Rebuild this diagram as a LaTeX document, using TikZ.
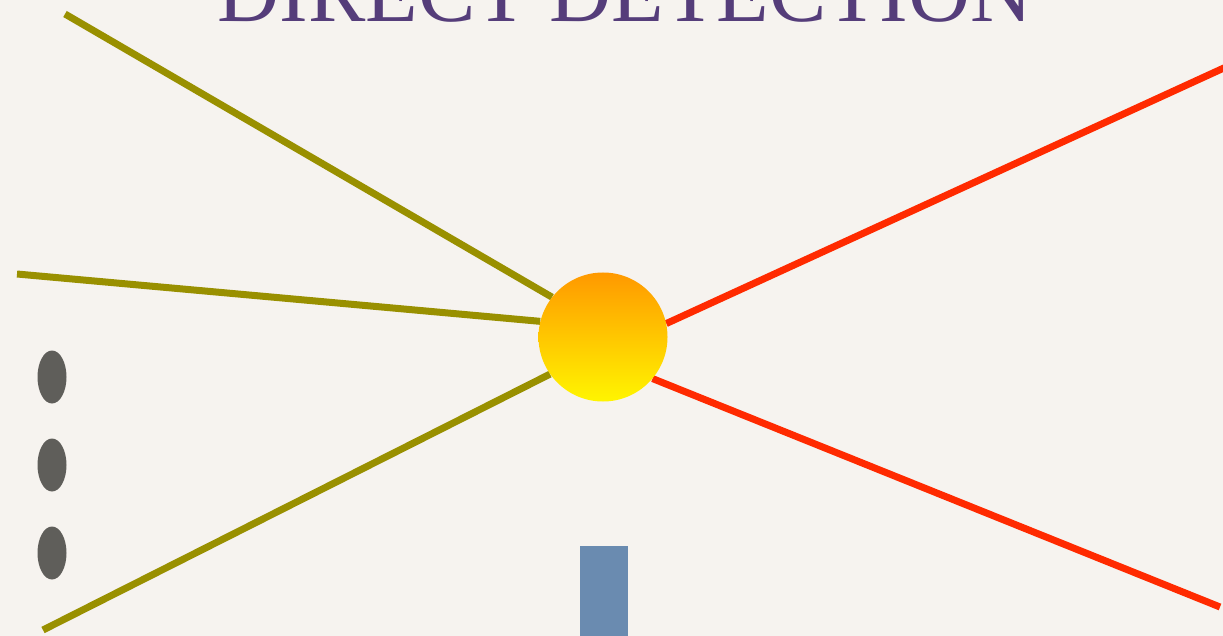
\documentclass[tikz,border=0pt]{standalone}
\usepackage{fontspec}
\setmainfont{Liberation Serif}
\usetikzlibrary{shapes.geometric}
\definecolor{paper}{HTML}{F6F3EF}
\definecolor{olive}{HTML}{999000}
\definecolor{redline}{HTML}{FF2A00}
\definecolor{titlepurple}{HTML}{553D7A}
\definecolor{dotgray}{HTML}{5F5E5A}
\definecolor{slab}{HTML}{6A8BB0}
\tikzset{
  inleg/.style={draw=olive,line width=7pt},
  outleg/.style={draw=redline,line width=7pt},
  blob/.style={circle,minimum size=129pt,inner sep=0pt},
  dots/.style={ellipse,fill=dotgray,minimum width=29pt,minimum height=53pt,inner sep=0pt}
}
\begin{document}
\begin{tikzpicture}[x=1pt,y=-1pt]
    \useasboundingbox (0,0) rectangle (1223,636);
    \clip (0,0) rectangle (1223,636);
    \fill[paper] (0,0) rectangle (1223,636);
    \node[anchor=base,text=titlepurple,inner sep=0pt,font=\fontsize{86}{86}\selectfont] (title) at (625,22) {DIRECT DETECTION};
    % vertex: shape first, filled on top of the legs
    \node[blob] (vertex) at (603,337) {};
    \path
      coordinate (a) at (65,14)
      coordinate (b) at (17,274)
      coordinate (c) at (43,630)
      coordinate (d) at (1226,67)
      coordinate (e) at (1220,607);
    \draw[inleg](a)--(vertex.142);
    \draw[inleg](b)--(vertex.166);
    \draw[inleg](c)--(vertex.215);
    \draw[outleg](vertex.12)--(d);
    \draw[outleg](vertex.-40)--(e);
    \node[blob,top color={rgb,255:red,255;green,153;blue,0},bottom color={rgb,255:red,255;green,245;blue,0}] (vertexfill) at (vertex) {};
    \foreach \y/\n in {377/1,465/2,553/3}
      \node[dots] (dot\n) at (52,\y) {};
    \fill[slab] (580,546) rectangle (628,640);
\end{tikzpicture}
\end{document}
